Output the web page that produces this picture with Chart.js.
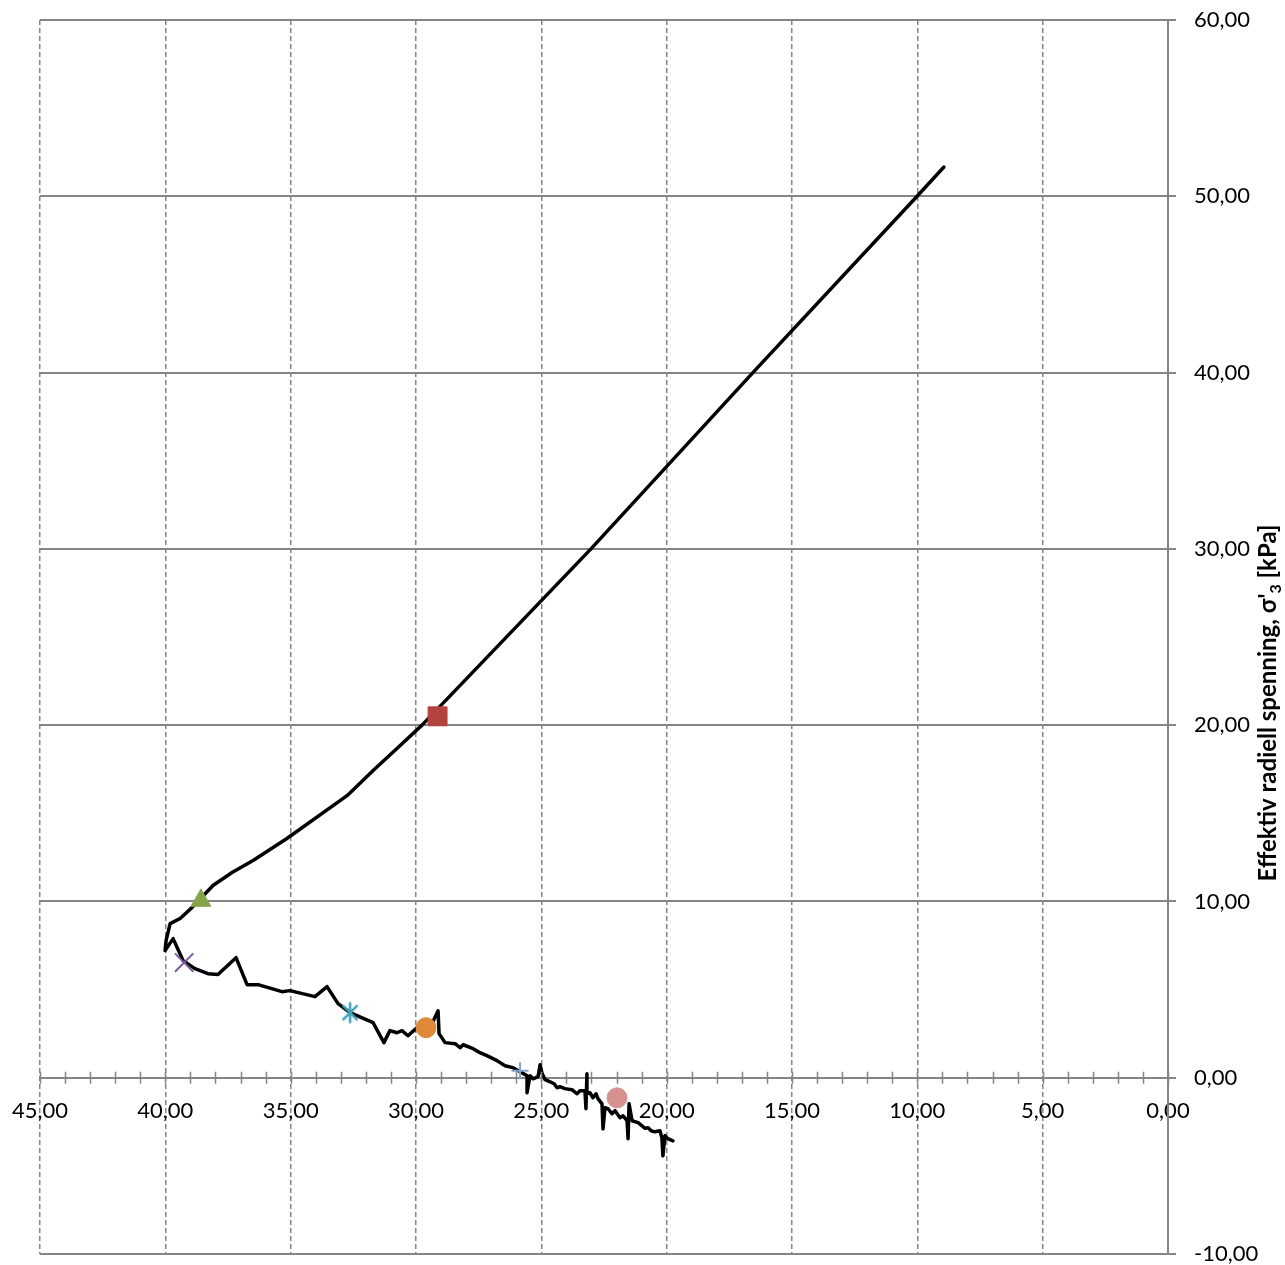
<!DOCTYPE html>
<html>
<head>
<meta charset="utf-8">
<script src="https://cdn.jsdelivr.net/npm/chart.js@4.4.1/dist/chart.umd.min.js"></script>
<style>
  html, body { margin: 0; padding: 0; background: #ffffff; overflow: hidden; }
  canvas { display: block; }
</style>
</head>
<body>
<canvas id="chart" width="1285" height="1269"></canvas>
<script>
// stress path: sigma'1 (x, reversed) against sigma'3 (y)
const pathX = [19.75, 19.95, 20.07, 20.15, 20.19, 20.27, 20.47, 20.62, 20.74, 20.86,
  21.14, 21.38, 21.50, 21.54, 21.58, 21.74, 21.86, 22.06, 22.18, 22.34,
  22.46, 22.54, 22.58, 22.74, 22.82, 22.94, 23.06, 23.18, 23.18, 23.22,
  23.26, 23.46, 23.58, 23.78, 24.06, 24.26, 24.37, 24.49, 24.65, 24.85,
  24.97, 25.05, 25.13, 25.33, 25.45, 25.57, 25.57, 25.77, 26.13, 26.45,
  26.77, 27.17, 27.45, 27.72, 28.12, 28.24, 28.44, 28.84, 29.08, 29.12,
  29.36, 29.96, 30.32, 30.56, 30.76, 31.04, 31.28, 31.71, 32.63, 33.11,
  33.55, 34.03, 35.03, 35.35, 36.30, 36.74, 37.18, 37.90, 38.30, 38.82,
  39.29, 39.69, 40.01, 39.97, 39.81, 39.41, 38.94, 38.10, 37.34, 36.50,
  35.15, 32.75, 31.71, 30.76, 29.76, 23.02, 16.56, 10.01, 8.94];
const pathY = [-3.58, -3.46, -3.29, -4.43, -3.41, -3.01, -3.07, -3.01, -2.84, -2.87,
  -2.55, -2.44, -1.48, -3.46, -2.44, -2.16, -2.27, -1.87, -2.04, -1.76,
  -1.70, -2.90, -1.48, -1.19, -0.91, -1.14, -0.85, -0.91, 0.23, -1.76,
  -0.74, -0.74, -0.91, -0.68, -0.62, -0.51, -0.57, -0.34, -0.23, -0.11,
  0.23, 0.74, 0.06, -0.06, 0.11, -0.85, 0.11, 0.28, 0.57, 0.68,
  0.97, 1.25, 1.42, 1.65, 1.87, 1.70, 1.93, 1.99, 2.50, 3.80,
  3.07, 2.84, 2.38, 2.67, 2.55, 2.67, 1.99, 3.12, 3.69, 4.20,
  5.17, 4.60, 4.94, 4.88, 5.28, 5.28, 6.81, 5.85, 5.90, 6.19,
  6.64, 7.89, 7.21, 7.78, 8.74, 9.03, 9.65, 10.90, 11.64, 12.32,
  13.57, 16.00, 17.43, 18.68, 20.00, 30.00, 40.00, 50.00, 51.66];

// single marked points along the path
const markerX = [29.14, 38.58, 39.25, 32.63, 29.60, 25.85, 21.98];
const markerY = [20.50, 10.05, 6.53, 3.69, 2.84, 0.40, -1.14];

// axis ranges / ticks
const xRange = [0, 45];
const xStep = 5;
const yRange = [-10, 60];
const yStep = 10;

const GRID = "#858585";
const FONT = "Lato, 'Open Sans', sans-serif";

function fmt(v) {
  return v.toFixed(2).replace(".", ",");
}

// asterisk marker: vertical stroke plus two diagonals
function asterisk(color, size) {
  const c = document.createElement("canvas");
  c.width = size; c.height = size;
  const g = c.getContext("2d");
  const m = size / 2, r = size / 2 - 1.5;
  g.strokeStyle = color;
  g.lineWidth = 2.5;
  g.beginPath();
  g.moveTo(m, m - r); g.lineTo(m, m + r);
  const d = r * Math.cos(Math.PI / 4);
  g.moveTo(m - d, m - d); g.lineTo(m + d, m + d);
  g.moveTo(m - d, m + d); g.lineTo(m + d, m - d);
  g.stroke();
  return c;
}

const markerStyles = [
  { pointStyle: "rect", radius: 13.4, color: "#b3433f" },
  { pointStyle: "triangle", radius: 11.5, color: "#86a44c" },
  { pointStyle: "crossRot", radius: 13, color: "#7a5c9c", line: true },
  { pointStyle: asterisk("#41a3bc", 24), radius: 12, color: "#41a3bc" },
  { pointStyle: "circle", radius: 10, color: "#e0883a" },
  { pointStyle: "cross", radius: 8.5, color: "#87a4d0", line: true },
  { pointStyle: "circle", radius: 10, color: "#d69090" },
];

const markerSets = markerX.map((x, i) => {
  const s = markerStyles[i];
  return {
    data: [{ x: x, y: markerY[i] }],
    pointStyle: s.pointStyle,
    pointRadius: s.radius,
    pointBackgroundColor: s.color,
    pointBorderColor: s.color,
    pointBorderWidth: s.line ? 2 : 1,
    showLine: false,
    order: 1,
  };
});

// keep tick labels from pushing the plot area inwards
const noPadding = () => ({ left: 0, top: 0, right: 0, bottom: 0 });

// minor/major tick marks crossing the x axis line at y = 0
const crossTicks = {
  id: "crossTicks",
  afterDatasetsDraw(chart) {
    const { ctx, scales } = chart;
    const y0 = scales.y.getPixelForValue(0);
    ctx.save();
    ctx.strokeStyle = GRID;
    ctx.lineWidth = 1.5;
    ctx.beginPath();
    for (let v = xRange[0]; v <= xRange[1]; v++) {
      const px = Math.round(scales.x.getPixelForValue(v)) + 0.5;
      ctx.moveTo(px, y0 - 6);
      ctx.lineTo(px, y0 + 6);
    }
    ctx.stroke();
    ctx.restore();
  },
};

// vertical axis title with subscript
const yTitle = {
  id: "yTitle",
  afterDraw(chart) {
    const { ctx } = chart;
    const main = "Effektiv radiell spenning, \u03c3'";
    const sub = "3";
    const tail = " [kPa]";
    const big = "bold 24px " + FONT;
    const small = "bold 16px " + FONT;
    ctx.save();
    ctx.translate(chart.width - 17, 703);
    ctx.rotate(-Math.PI / 2);
    ctx.fillStyle = "#000";
    ctx.textBaseline = "alphabetic";
    ctx.font = big;
    const w1 = ctx.measureText(main).width;
    const w3 = ctx.measureText(tail).width;
    ctx.font = small;
    const w2 = ctx.measureText(sub).width;
    let x = -(w1 + w2 + w3) / 2;
    const base = 8;
    ctx.font = big;
    ctx.fillText(main, x, base);
    x += w1;
    ctx.font = small;
    ctx.fillText(sub, x, base + 5);
    x += w2;
    ctx.font = big;
    ctx.fillText(tail, x, base);
    ctx.restore();
  },
};

new Chart(document.getElementById("chart"), {
  type: "scatter",
  data: {
    datasets: markerSets.concat([
      {
        data: pathX.map((x, i) => ({ x: x, y: pathY[i] })),
        showLine: true,
        borderColor: "#000000",
        borderWidth: 3.5,
        borderJoinStyle: "round",
        borderCapStyle: "round",
        pointRadius: 0,
        tension: 0,
        order: 5,
      },
    ]),
  },
  options: {
    responsive: false,
    devicePixelRatio: 1,
    animation: false,
    layout: { padding: { left: 40, top: 20, right: 0, bottom: 0 } },
    plugins: {
      legend: { display: false },
      tooltip: { enabled: false },
    },
    scales: {
      x: {
        type: "linear",
        reverse: true,
        min: xRange[0],
        max: xRange[1],
        position: { y: 0 },
        border: { display: false, dash: [5, 3] },
        grid: {
          color: GRID,
          lineWidth: 1.5,
          tickColor: "rgba(0,0,0,0)",
          tickLength: 6,
        },
        ticks: {
          stepSize: xStep,
          padding: 14,
          color: "#000",
          font: { family: FONT, size: 22 },
          maxRotation: 0,
          autoSkip: false,
          callback: (v) => fmt(v),
        },
        afterFit(scale) {
          scale.getPadding = noPadding;
        },
      },
      y: {
        type: "linear",
        position: "right",
        min: yRange[0],
        max: yRange[1],
        border: { display: true, color: GRID, width: 2 },
        grid: {
          color: GRID,
          lineWidth: 2,
          tickColor: GRID,
          tickLength: 8,
        },
        ticks: {
          stepSize: yStep,
          padding: 18,
          color: "#000",
          font: { family: FONT, size: 22 },
          callback: (v) => fmt(v),
        },
        afterFit(scale) {
          scale.width = 117;
          scale.getPadding = noPadding;
        },
      },
    },
  },
  plugins: [crossTicks, yTitle],
});
</script>
</body>
</html>
